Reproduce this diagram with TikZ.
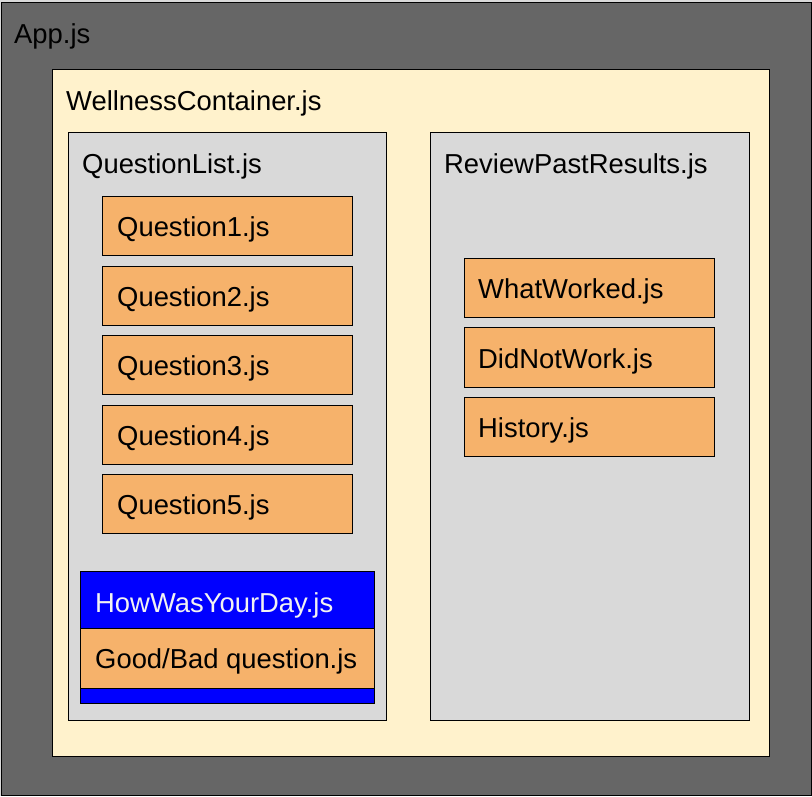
\documentclass[tikz,border=0pt]{standalone}
\usepackage{fontspec}
\setmainfont{Liberation Sans}
\begin{document}
\begin{tikzpicture}[x=1pt,y=-1pt,
  box/.style={draw=black, line width=1.2pt, inner sep=0pt, anchor=north west},
  appbox/.style={box, fill=appgrey},
  wellbox/.style={box, fill=wellyellow},
  listbox/.style={box, fill=listgrey},
  compbox/.style={box, fill=comporange, minimum width=250pt, minimum height=59pt},
  bluebox/.style={box, fill=blue},
  lbl/.style={anchor=base west, inner sep=0pt, font=\fontsize{27.4}{30}\selectfont, text=black},
  wlbl/.style={lbl, text=white!95!black}
]
\definecolor{appgrey}{HTML}{666666}
\definecolor{wellyellow}{HTML}{FFF2CC}
\definecolor{listgrey}{HTML}{D9D9D9}
\definecolor{comporange}{HTML}{F6B26B}
\useasboundingbox (0,0) rectangle (812,796);
\fill[white!85!black] (0,0) rectangle (812,796);
% App
\node[appbox, minimum width=810pt, minimum height=793pt] (app) at (1,2) {};
\node[lbl] (applbl) at (14,43) {App.js};
% Wellness
\node[wellbox, minimum width=717pt, minimum height=687pt] (well) at (52,69) {};
\node[lbl] (welllbl) at (66,110) {WellnessContainer.js};
% QuestionList
\node[listbox, minimum width=318pt, minimum height=588pt] (qlist) at (68,132) {};
\node[lbl] (qlistlbl) at (82,173) {QuestionList.js};
% ReviewPastResults
\node[listbox, minimum width=319pt, minimum height=588pt] (review) at (430,132) {};
\node[lbl] (reviewlbl) at (444,173) {ReviewPastResults.js};
% Questions
\node[compbox] (q1) at (102,196) {};
\node[lbl] (q1lbl) at (117,236) {Question1.js};
\node[compbox] (q2) at (102,266) {};
\node[lbl] (q2lbl) at (117,306) {Question2.js};
\node[compbox] (q3) at (102,335) {};
\node[lbl] (q3lbl) at (117,375) {Question3.js};
\node[compbox] (q4) at (102,405) {};
\node[lbl] (q4lbl) at (117,445) {Question4.js};
\node[compbox] (q5) at (102,474) {};
\node[lbl] (q5lbl) at (117,514) {Question5.js};
% HowWasYourDay
\node[bluebox, minimum width=294pt, minimum height=132pt] (how) at (80,571) {};
\node[wlbl] (howlbl) at (95,612) {HowWasYourDay.js};
\node[box, fill=comporange, minimum width=294pt, minimum height=60pt] (good) at (80,628) {};
\node[lbl] (goodlbl) at (95,668) {Good/Bad question.js};
% Review components
\node[compbox] (what) at (464,258) {};
\node[lbl] (whatlbl) at (478,298) {WhatWorked.js};
\node[compbox, minimum height=60pt] (didnot) at (464,327) {};
\node[lbl] (didnotlbl) at (478,368) {DidNotWork.js};
\node[compbox] (hist) at (464,397) {};
\node[lbl] (histlbl) at (478,437) {History.js};
\end{tikzpicture}
\end{document}
